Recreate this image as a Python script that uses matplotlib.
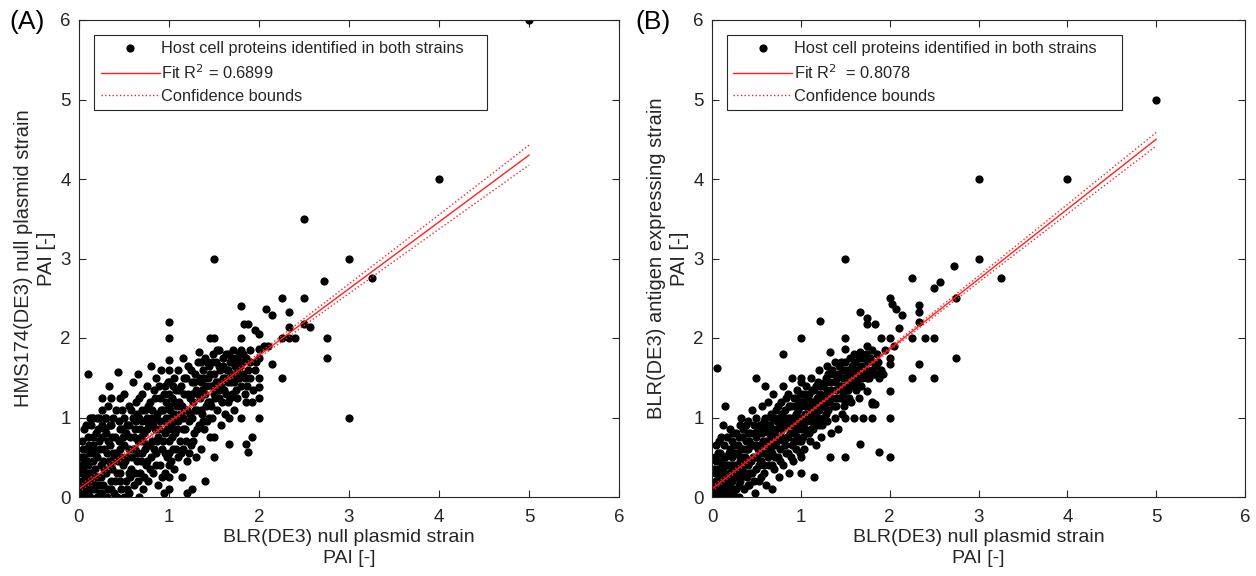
import numpy as np
import matplotlib.pyplot as plt

plt.rcParams['font.family'] = ['Liberation Sans', 'DejaVu Sans']

# panel A: BLR(DE3) null plasmid vs HMS174(DE3) null plasmid, PAI values
pts_a = [
    (0.02,0.05),(0.03,0.2),(0.04,0.35),(0.05,0.1),(0.05,0.5),(0.06,0.0),(0.07,0.25),(0.08,0.6),(0.08,0.15),
    (0.1,0.4),(0.1,0.05),(0.1,0.75),(0.11,0.3),(0.12,0.55),(0.12,0.0),(0.13,0.9),(0.14,0.2),(0.15,0.45),
    (0.15,0.65),(0.16,1.0),(0.17,0.1),(0.18,0.35),(0.19,0.8),(0.2,0.0),(0.2,0.5),(0.2,1.0),(0.21,0.25),
    (0.22,0.7),(0.23,0.05),(0.24,0.4),(0.25,0.9),(0.25,1.25),(0.1,1.55),(0.02,0.5),(0.0,0.3),(0.03,0.7),
    (0.14,1.0),(0.06,0.85),(0.09,0.45),(0.17,0.6),(0.22,0.15),(0.0,0.1),(0.04,0.0),(0.13,0.3),
    (0.01,0.4),(0.02,0.15),(0.04,0.6),(0.06,0.3),(0.07,0.45),(0.09,0.2),(0.11,0.65),(0.13,0.1),(0.16,0.3),
    (0.16,0.75),(0.18,0.55),(0.19,0.15),(0.21,0.85),(0.23,0.6),(0.24,0.25),(0.12,1.0),(0.08,0.9),
    (0.27,0.15),(0.28,0.6),(0.29,1.0),(0.3,0.3),(0.3,0.8),(0.31,0.0),(0.32,1.15),(0.33,0.45),(0.33,1.4),
    (0.34,0.65),(0.35,0.1),(0.36,0.9),(0.37,0.35),(0.38,1.0),(0.38,0.55),(0.4,0.2),(0.4,0.75),(0.41,1.1),
    (0.42,0.0),(0.43,1.57),(0.43,0.45),(0.44,0.95),(0.45,0.3),(0.45,1.25),(0.46,0.6),(0.47,0.1),(0.48,0.85),
    (0.49,0.4),(0.5,1.0),(0.5,0.0),(0.5,0.65),(0.5,1.3),(0.27,0.45),(0.32,0.7),(0.36,0.2),(0.41,0.55),
    (0.26,0.75),(0.26,0.05),(0.28,0.35),(0.29,0.85),(0.31,0.55),(0.32,0.1),(0.34,0.9),(0.35,0.4),(0.37,0.75),
    (0.39,0.5),(0.39,0.05),(0.42,0.3),(0.44,0.7),(0.46,0.2),(0.47,0.5),(0.48,1.1),(0.49,0.75),(0.3,1.0),
    (0.36,1.25),(0.22,1.0),(0.26,1.1),(0.45,0.85),
    (0.52,0.2),(0.53,0.9),(0.54,0.5),(0.55,1.15),(0.56,0.05),(0.57,0.75),(0.58,0.35),(0.6,1.0),(0.6,0.6),
    (0.6,1.45),(0.61,0.15),(0.62,0.85),(0.63,1.2),(0.64,0.45),(0.65,1.55),(0.66,0.7),(0.67,0.0),(0.67,1.0),
    (0.68,0.3),(0.7,0.95),(0.7,0.55),(0.7,1.3),(0.71,0.1),(0.72,0.8),(0.73,1.1),(0.74,0.4),(0.75,0.65),
    (0.75,1.0),(0.75,1.4),(0.55,0.3),(0.62,0.6),(0.69,0.75),
    (0.51,0.45),(0.52,0.8),(0.53,0.1),(0.55,0.6),(0.56,0.9),(0.57,0.25),(0.58,1.1),(0.59,0.5),(0.61,0.75),
    (0.62,0.3),(0.63,0.95),(0.64,1.05),(0.65,0.2),(0.66,0.55),(0.67,1.25),(0.68,0.85),(0.69,0.45),(0.7,1.1),
    (0.71,0.7),(0.72,0.25),(0.73,0.6),(0.74,0.95),
    (0.77,0.2),(0.78,0.9),(0.79,1.2),(0.8,0.5),(0.8,1.0),(0.8,1.65),(0.81,0.7),(0.82,0.3),(0.83,1.35),
    (0.84,0.85),(0.85,1.5),(0.86,0.55),(0.87,1.05),(0.88,0.15),(0.88,0.75),(0.9,1.25),(0.9,0.4),(0.9,0.95),
    (0.91,1.6),(0.92,0.6),(0.93,1.1),(0.94,0.05),(0.95,0.8),(0.95,1.4),(0.96,0.3),(0.97,1.0),(0.98,0.5),
    (0.76,0.85),(0.76,0.45),(0.77,1.15),(0.78,0.65),(0.79,0.35),(0.81,1.1),(0.82,0.9),(0.83,0.6),(0.84,1.25),
    (0.85,0.4),(0.86,1.0),(0.87,0.7),(0.89,0.85),(0.89,1.4),(0.91,1.1),(0.92,0.25),(0.93,0.7),(0.94,1.3),
    (0.95,0.95),(0.96,0.55),(0.97,1.2),(0.98,0.85),(0.99,1.45),
    (1.0,0.1),(1.0,0.25),(1.0,0.4),(1.0,0.55),(1.0,0.7),(1.0,0.85),(1.0,1.0),(1.0,1.15),(1.0,1.3),
    (1.0,1.45),(1.0,1.6),(1.0,1.72),(1.0,2.0),(1.0,2.2),
    (1.02,0.9),(1.03,1.25),(1.04,0.6),(1.05,1.05),(1.05,1.5),(1.06,0.35),(1.07,0.8),(1.08,1.35),(1.09,1.15),
    (1.1,0.5),(1.1,0.95),(1.1,1.6),(1.11,1.2),(1.12,0.7),(1.13,1.4),(1.14,0.25),(1.15,1.0),(1.15,1.75),
    (1.16,0.6),(1.17,1.3),(1.18,0.85),(1.19,1.5),(1.2,1.1),(1.2,0.45),(1.2,0.05),(1.21,1.65),(1.22,0.95),
    (1.23,1.25),(1.24,0.65),(1.25,1.45),(1.25,0.1),
    (1.01,1.1),(1.02,0.45),(1.03,0.75),(1.04,1.4),(1.06,0.95),(1.07,1.2),(1.08,0.6),(1.09,0.85),(1.11,1.35),
    (1.12,1.05),(1.13,0.55),(1.14,1.15),(1.16,0.85),(1.17,1.5),(1.18,1.1),(1.19,0.7),(1.21,1.3),(1.22,0.55),
    (1.23,1.05),(1.24,1.6),
    (1.26,1.0),(1.27,1.2),(1.28,0.8),(1.29,1.55),(1.3,1.35),(1.3,0.5),(1.31,1.1),(1.32,1.7),(1.33,0.9),
    (1.33,1.83),(1.34,1.25),(1.35,0.6),(1.36,1.45),(1.37,1.05),(1.38,1.6),(1.39,0.85),(1.4,1.3),(1.4,1.75),
    (1.4,0.2),(1.41,1.15),(1.42,0.95),(1.43,1.5),(1.44,1.65),(1.45,2.0),(1.45,1.2),(1.46,0.75),(1.47,1.4),
    (1.48,1.0),(1.49,1.8),(1.5,1.55),(1.5,2.0),(1.5,1.3),(1.5,0.5),(1.5,0.75),(1.5,3.0),
    (1.26,1.3),(1.27,0.7),(1.28,1.45),(1.29,1.1),(1.31,0.85),(1.32,1.3),(1.34,1.5),(1.35,1.1),(1.36,1.7),
    (1.37,1.35),(1.38,0.95),(1.39,1.5),(1.41,1.4),(1.42,1.7),(1.43,1.2),(1.44,1.0),(1.46,1.55),(1.47,1.15),
    (1.48,1.7),(1.49,1.4),
    (1.52,1.7),(1.53,1.1),(1.54,1.45),(1.55,1.85),(1.56,1.25),(1.57,1.6),(1.58,0.9),(1.6,1.5),(1.6,1.75),
    (1.61,1.35),(1.62,1.05),(1.63,1.8),(1.64,1.6),(1.65,1.2),(1.66,1.45),(1.67,1.0),(1.67,0.67),(1.68,1.7),
    (1.7,1.55),(1.7,1.3),(1.71,1.85),(1.72,1.1),(1.73,1.65),(1.75,1.5),(1.75,1.75),(1.75,1.25),
    (1.51,1.25),(1.52,1.45),(1.53,1.85),(1.55,1.35),(1.56,1.65),(1.58,1.4),(1.59,1.2),(1.6,1.65),(1.62,1.5),
    (1.63,1.3),(1.65,1.6),(1.66,1.8),(1.68,1.25),(1.69,1.45),(1.7,1.75),(1.72,1.45),(1.74,1.35),
    (1.77,1.6),(1.78,1.8),(1.8,2.4),(1.8,2.0),(1.8,1.85),(1.8,1.0),(1.8,1.4),(1.81,1.7),(1.82,1.55),
    (1.83,2.17),(1.84,1.3),(1.85,1.75),(1.86,0.67),(1.86,1.2),(1.88,2.17),(1.88,0.57),(1.88,1.6),(1.9,1.85),
    (1.9,1.5),(1.92,0.75),(1.93,1.35),(1.95,2.1),(1.97,1.7),(2.0,1.86),(2.0,1.75),(2.0,1.5),(2.0,1.38),
    (2.0,1.25),(2.0,1.0),(2.0,2.05),(1.76,1.7),(1.78,1.5),(1.79,1.65),(1.82,1.8),(1.84,1.5),(1.87,1.4),
    (1.9,1.7),(1.92,1.2),(1.95,1.6),
    (2.05,1.9),(2.08,2.36),(2.14,2.29),(2.14,1.67),(2.1,1.9),(2.25,2.5),(2.25,2.0),(2.25,1.5),(2.33,2.33),
    (2.33,2.14),(2.33,2.0),(2.4,2.0),(2.5,2.5),(2.5,2.17),(2.57,2.14),(2.5,3.5),(2.72,2.72),(2.75,2.0),
    (2.75,1.75),(3.0,3.0),(3.0,1.0),(3.25,2.75),(4.0,4.0),(5.0,6.0),
]

# panel B: BLR(DE3) null plasmid vs BLR(DE3) antigen expressing
pts_b = [
    (0.01,0.02),(0.02,0.15),(0.03,0.3),(0.04,0.05),(0.05,0.45),(0.05,0.2),(0.06,0.0),(0.07,0.35),(0.08,0.1),
    (0.09,0.55),(0.1,0.25),(0.1,0.0),(0.11,0.4),(0.12,0.15),(0.13,0.65),(0.14,0.3),(0.15,0.05),(0.15,0.5),
    (0.16,0.2),(0.17,0.75),(0.18,0.4),(0.19,0.1),(0.2,0.6),(0.2,0.3),(0.21,0.0),(0.22,0.5),(0.23,0.2),
    (0.24,0.8),(0.25,0.4),(0.25,0.65),(0.03,0.5),(0.08,0.7),(0.12,0.9),(0.0,0.15),(0.05,0.0),(0.18,0.0),
    (0.01,0.1),(0.02,0.35),(0.03,0.0),(0.04,0.2),(0.06,0.3),(0.07,0.05),(0.07,0.55),(0.09,0.3),(0.1,0.45),
    (0.11,0.1),(0.12,0.35),(0.13,0.2),(0.14,0.5),(0.16,0.4),(0.17,0.0),(0.17,0.25),(0.19,0.55),(0.2,0.15),
    (0.21,0.4),(0.22,0.7),(0.23,0.35),(0.24,0.05),(0.05,0.65),(0.1,0.75),(0.2,0.85),
    (0.27,0.1),(0.28,0.55),(0.29,0.3),(0.3,0.75),(0.3,0.0),(0.31,0.45),(0.32,0.2),(0.33,1.0),(0.33,0.6),
    (0.34,0.35),(0.35,0.85),(0.36,0.1),(0.37,0.5),(0.38,0.7),(0.39,0.25),(0.4,0.95),(0.4,0.4),(0.41,0.6),
    (0.42,0.15),(0.43,0.8),(0.44,0.45),(0.45,1.1),(0.45,0.3),(0.46,0.65),(0.47,0.9),(0.48,0.05),(0.49,0.5),
    (0.5,0.75),(0.5,1.0),(0.5,0.35),(0.27,0.35),(0.35,0.6),(0.42,0.7),
    (0.26,0.55),(0.26,0.25),(0.28,0.4),(0.29,0.65),(0.3,0.15),(0.31,0.9),(0.32,0.5),(0.33,0.25),(0.34,0.75),
    (0.36,0.45),(0.37,0.3),(0.38,0.9),(0.39,0.6),(0.4,0.15),(0.41,0.8),(0.42,0.45),(0.43,0.3),(0.44,0.65),
    (0.46,0.5),(0.47,0.2),(0.48,0.8),(0.49,0.65),(0.27,0.8),
    (0.52,0.6),(0.53,0.2),(0.54,0.9),(0.55,0.45),(0.56,1.15),(0.57,0.7),(0.58,0.3),(0.6,0.85),(0.6,0.55),
    (0.6,1.0),(0.61,0.15),(0.62,0.65),(0.63,1.2),(0.64,0.4),(0.65,0.9),(0.66,0.75),(0.67,0.1),(0.67,1.0),
    (0.68,0.55),(0.69,1.3),(0.7,0.8),(0.7,0.35),(0.71,0.65),(0.72,1.1),(0.73,0.95),(0.74,0.5),(0.75,0.75),
    (0.75,1.0),(0.75,0.25),
    (0.51,0.5),(0.52,0.85),(0.53,0.4),(0.54,0.65),(0.55,0.25),(0.56,0.8),(0.57,0.55),(0.58,0.95),(0.59,0.4),
    (0.61,0.7),(0.62,0.9),(0.63,0.5),(0.64,0.8),(0.65,0.6),(0.66,1.05),(0.67,0.4),(0.68,0.85),(0.69,0.65),
    (0.7,1.0),(0.71,0.5),(0.72,0.85),(0.73,0.7),(0.74,1.15),
    (0.77,0.6),(0.78,1.2),(0.79,0.85),(0.8,1.4),(0.8,0.4),(0.8,1.0),(0.81,0.7),(0.82,1.1),(0.83,0.55),
    (0.84,0.9),(0.85,1.3),(0.86,0.75),(0.87,0.3),(0.88,1.0),(0.89,1.15),(0.9,0.65),(0.9,0.9),(0.9,1.5),
    (0.91,0.45),(0.92,1.25),(0.93,0.8),(0.94,1.05),(0.95,0.6),(0.96,1.35),(0.97,0.95),(0.98,0.7),(0.99,1.2),
    (0.76,0.9),(0.77,0.45),(0.78,0.75),(0.79,1.05),(0.81,0.9),(0.82,0.65),(0.83,1.25),(0.84,0.75),(0.85,1.0),
    (0.86,0.55),(0.87,1.15),(0.88,0.8),(0.89,0.5),(0.91,1.0),(0.92,0.7),(0.93,1.15),(0.94,0.85),(0.95,1.25),
    (0.96,0.75),(0.97,1.1),(0.98,0.9),(0.99,0.55),
    (1.0,0.3),(1.0,0.5),(1.0,0.7),(1.0,0.85),(1.0,1.0),(1.0,1.15),(1.0,1.3),(1.0,1.45),(1.0,1.5),
    (1.02,0.9),(1.03,1.2),(1.04,0.6),(1.05,1.05),(1.06,1.4),(1.07,0.8),(1.08,1.0),(1.09,1.3),(1.1,0.7),
    (1.1,1.15),(1.11,0.95),(1.12,1.5),(1.13,1.2),(1.14,0.85),(1.15,1.35),(1.16,1.05),(1.17,0.65),(1.18,1.25),
    (1.19,1.45),(1.2,1.1),(1.2,0.9),(1.21,1.6),(1.22,1.3),(1.23,0.75),(1.24,1.15),(1.25,1.4),(1.25,1.0),
    (1.01,1.2),(1.02,0.75),(1.03,1.0),(1.04,1.3),(1.05,0.85),(1.06,1.15),(1.07,0.95),(1.08,1.25),(1.09,0.8),
    (1.11,1.1),(1.12,0.85),(1.13,1.35),(1.14,1.05),(1.15,0.9),(1.16,1.2),(1.17,1.4),(1.18,0.95),(1.19,1.15),
    (1.21,1.0),(1.22,1.4),(1.23,1.2),(1.24,0.9),
    (1.27,1.25),(1.28,1.5),(1.29,0.95),(1.3,1.35),(1.3,1.65),(1.31,1.1),(1.33,1.45),(1.33,1.83),(1.34,0.8),
    (1.35,1.25),(1.36,1.55),(1.38,1.0),(1.38,1.7),(1.4,1.35),(1.4,1.15),(1.41,1.5),(1.42,0.85),(1.43,1.65),
    (1.44,1.25),(1.45,1.4),(1.46,1.05),(1.47,1.6),(1.48,1.3),(1.5,1.5),(1.5,1.7),(1.5,1.2),(1.5,1.0),
    (1.26,1.15),(1.27,1.45),(1.28,1.05),(1.29,1.3),(1.31,1.55),(1.32,1.2),(1.34,1.35),(1.35,1.6),(1.37,1.15),
    (1.39,1.45),(1.41,1.25),(1.42,1.55),(1.44,1.4),(1.45,1.7),(1.47,1.35),(1.48,1.5),(1.49,1.15),
    (1.52,1.6),(1.53,1.35),(1.55,1.75),(1.56,1.45),(1.57,1.2),(1.58,1.65),(1.6,1.5),(1.6,1.8),(1.6,1.0),
    (1.62,1.35),(1.63,1.6),(1.65,1.75),(1.65,1.25),(1.67,1.5),(1.67,1.83),(1.68,1.4),(1.7,1.65),(1.7,1.0),
    (1.72,1.55),(1.73,1.8),(1.75,1.6),(1.75,1.33),(1.75,1.9),
    (1.51,1.4),(1.53,1.55),(1.54,1.25),(1.56,1.6),(1.57,1.4),(1.59,1.55),(1.61,1.7),(1.62,1.45),(1.64,1.55),
    (1.66,1.4),(1.68,1.65),(1.69,1.5),(1.71,1.75),(1.74,1.5),(1.76,1.7),(1.79,1.55),(1.81,1.7),(1.84,1.55),
    (1.87,1.7),(1.9,1.55),
    (1.77,1.5),(1.78,1.75),(1.8,1.6),(1.8,1.85),(1.8,1.2),(1.8,1.0),(1.82,1.55),(1.83,1.17),(1.85,1.65),
    (1.86,1.8),(1.88,1.5),(1.9,1.6),(1.9,2.0),(1.92,1.55),(1.95,1.85),
    (5.0,5.0),(4.0,4.0),(3.0,4.0),(3.0,3.0),(3.25,2.75),(2.72,2.9),(2.75,2.5),(2.75,1.75),(2.57,2.71),
    (2.5,2.63),(2.5,2.0),(2.5,1.5),(2.4,2.0),(2.33,2.42),(2.33,2.33),(2.33,2.2),(2.33,1.67),(2.25,2.75),
    (2.25,2.0),(2.25,1.5),(2.14,2.29),(2.1,2.12),(2.07,2.36),(2.0,2.5),(2.03,2.43),(2.0,2.0),(2.05,1.9),
    (2.0,1.67),(2.0,1.75),(2.0,1.33),(2.0,1.0),(2.0,0.5),(1.88,0.56),(1.67,0.67),(1.5,0.5),(1.33,0.5),
    (1.15,0.25),(1.5,3.0),(1.5,2.0),(1.5,1.86),(1.22,2.22),(1.0,2.0),(0.8,1.8),(0.6,1.4),(0.5,1.5),
    (0.15,1.14),(0.06,1.62),(1.67,2.33),(1.75,2.25),(1.75,2.17),(1.83,2.17),(1.8,1.17),
]

# linear fits (slope, intercept) and half width of the confidence band at bound_x
fit_a = (0.84, 0.10)
fit_b = (0.88, 0.10)
r2_labels = ['Fit R$^2$ = 0.6899', 'Fit R$^2$  = 0.8078']
bound_x = [0, 1, 2, 3, 4, 5]
half_a = [0.04, 0.02, 0.03, 0.06, 0.09, 0.125]
half_b = [0.03, 0.015, 0.02, 0.04, 0.06, 0.085]

panels = [
    ('(A)', pts_a, fit_a, half_a, 'HMS174(DE3) null plasmid strain\nPAI [-]'),
    ('(B)', pts_b, fit_b, half_b, 'BLR(DE3) antigen expressing strain\nPAI [-]'),
]
ax_left = [79 / 1256, 712 / 1256]
ax_w = [540 / 1256, 533 / 1256]
leg_w = [0.728, 0.741]
tag_x = [9 / 1256, 635 / 1256]

fig = plt.figure(figsize=(12.56, 5.76), dpi=100)
txt = '#262626'
for i, (tag, pts, fit, half, ylab) in enumerate(panels):
    ax = fig.add_axes([ax_left[i], 79 / 576, ax_w[i], 477 / 576])
    xs = [p[0] for p in pts]
    ys = [p[1] for p in pts]
    ax.plot(xs, ys, 'o', color='black', markersize=4.9, linestyle='none',
            label='Host cell proteins identified in both strains')
    bx = np.array(bound_x, dtype=float)
    yfit = fit[0] * bx + fit[1]
    ax.plot(bx, yfit, '-', color='#ff2020', lw=1.0, label=r2_labels[i])
    ax.plot(bx, yfit + np.array(half), ':', color='#ff2020', lw=1.0, label='Confidence bounds')
    ax.plot(bx, yfit - np.array(half), ':', color='#ff2020', lw=1.0)

    ax.set_xlim(0, 6)
    ax.set_ylim(0, 6)
    ax.set_xticks(range(7))
    ax.set_yticks(range(7))
    ax.tick_params(direction='in', top=True, right=True, length=5, width=0.8,
                   labelsize=13.5, colors=txt)
    ax.tick_params(axis='x', pad=9)
    ax.tick_params(axis='y', pad=6)
    for s in ax.spines.values():
        s.set_color(txt)
        s.set_linewidth(0.8)
    ax.set_xlabel('BLR(DE3) null plasmid strain\nPAI [-]', fontsize=14, color=txt, labelpad=2,
                  linespacing=1.3)
    ax.set_ylabel(ylab, fontsize=14.5, color=txt, labelpad=3, linespacing=1.25)

    leg = ax.legend(loc='upper left', bbox_to_anchor=(0.028, 0.5, leg_w[i], 0.469), mode='expand',
                    borderaxespad=0, fontsize=11.8, handlelength=3.6, handletextpad=0.1,
                    labelspacing=0.42, fancybox=False, framealpha=1, edgecolor=txt, borderpad=0.4)
    leg.get_frame().set_linewidth(0.8)
    for t in leg.get_texts():
        t.set_color(txt)

    fig.text(tag_x[i], 1 - 22 / 576, tag, fontsize=19, color='black', va='center')

fig.savefig('out.png', dpi=100)
